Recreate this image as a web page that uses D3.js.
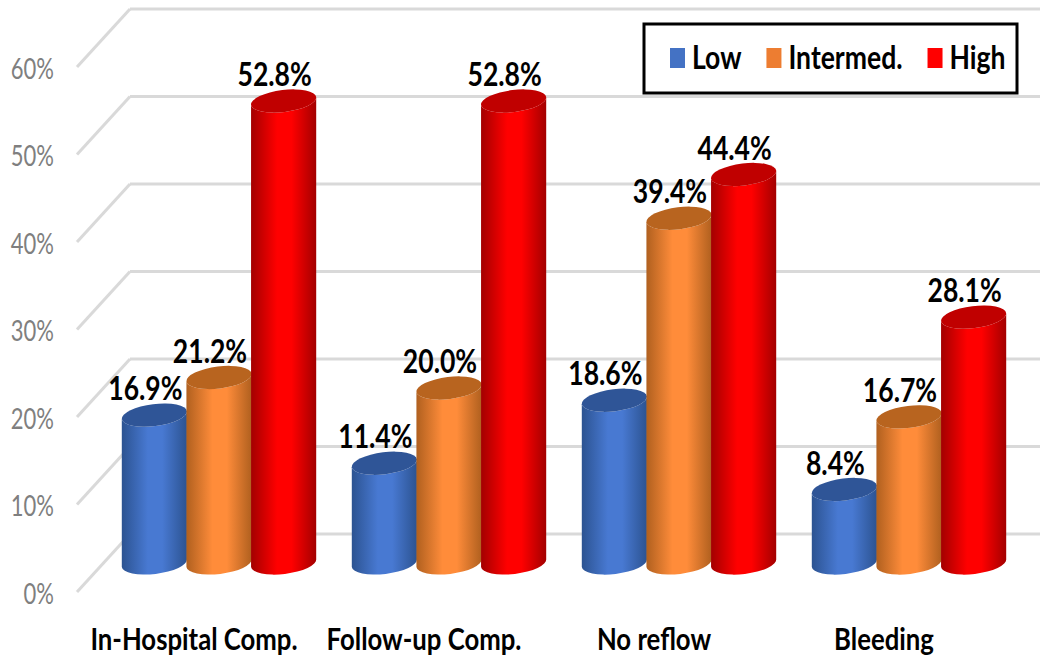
<!DOCTYPE html>
<html>
<head>
<meta charset="utf-8">
<script src="https://cdn.jsdelivr.net/npm/d3@7"></script>
<style>
  html, body { margin: 0; padding: 0; background: #fff; }
  svg { display: block; }
  text { font-family: Lato, "Open Sans", sans-serif; }
</style>
</head>
<body>
<div id="chart"></div>
<script>
// chart values
var categories = ["In-Hospital Comp.", "Follow-up Comp.", "No reflow", "Bleeding"];
var seriesNames = ["Low", "Intermed.", "High"];
var lowValues = [16.9, 11.4, 18.6, 8.4];
var intermedValues = [21.2, 20.0, 39.4, 16.7];
var highValues = [52.8, 52.8, 44.4, 28.1];
var yTicks = [0, 10, 20, 30, 40, 50, 60];

var seriesValues = [lowValues, intermedValues, highValues];
var swatchColors = ["#4472c4", "#ed7d31", "#ff0000"];
var edgeColors = ["#2c5391", "#b0601f", "#a30000"];
var midColors = ["#4879d2", "#ff8c3a", "#ff0000"];
var capColors = ["#2f5597", "#b8641f", "#c00000"];

var width = 1040;
var height = 661;
var squeeze = 0.83; // the bold labels use a narrowed face
var squeezeTicks = 0.76;

var svg = d3
  .select("#chart")
  .append("svg")
  .attr("width", width)
  .attr("height", height);

// scales: y runs through the plane the cylinders stand in
var y = d3.scaleLinear().domain([0, 60]).range([563, 38]);
var x = d3
  .scaleBand()
  .domain(categories)
  .range([104, 1024])
  .paddingInner(0.157)
  .paddingOuter(0.0785);
var xSeries = d3.scaleBand().domain(seriesNames).range([0, x.bandwidth()]);

// floor depth, measured from that plane
var frontOffset = 29;
var backOffset = -29;
var floorLeft = 77;
var floorBack = 130;

// horizontal shading for each cylinder
var defs = svg.append("defs");
seriesNames.forEach(function (name, i) {
  var grad = defs
    .append("linearGradient")
    .attr("id", "shade" + i)
    .attr("x1", "0%")
    .attr("x2", "100%");
  grad.append("stop").attr("offset", "0%").attr("stop-color", edgeColors[i]);
  grad.append("stop").attr("offset", "40%").attr("stop-color", midColors[i]);
  grad.append("stop").attr("offset", "62%").attr("stop-color", midColors[i]);
  grad.append("stop").attr("offset", "100%").attr("stop-color", edgeColors[i]);
});

// grid: wall lines plus the slanted side wall
var grid = svg.append("g").attr("stroke", "#d9d9d9").attr("stroke-width", 3);
grid
  .selectAll(".wall")
  .data(yTicks)
  .enter()
  .append("line")
  .attr("x1", floorBack)
  .attr("x2", width)
  .attr("y1", function (d) {
    return y(d) + backOffset;
  })
  .attr("y2", function (d) {
    return y(d) + backOffset;
  });
grid
  .selectAll(".side")
  .data(yTicks)
  .enter()
  .append("line")
  .attr("x1", floorLeft)
  .attr("x2", floorBack)
  .attr("y1", function (d) {
    return y(d) + frontOffset;
  })
  .attr("y2", function (d) {
    return y(d) + backOffset;
  });

// y axis labels
var yAxis = svg
  .append("g")
  .attr("transform", "translate(63," + (frontOffset + 2) + ")")
  .call(
    d3
      .axisLeft(y)
      .tickValues(yTicks)
      .tickSize(0)
      .tickFormat(function (d) {
        return d + "%";
      })
  );
yAxis.select(".domain").remove();
yAxis
  .selectAll("text")
  .attr("x", -9 / squeezeTicks)
  .attr("transform", "scale(" + squeezeTicks + ",1)")
  .style("font-family", "Lato, sans-serif")
  .style("font-size", "29px")
  .attr("fill", "#7f7f7f");

// x axis labels sit on the front of the floor, left of the groups
var xAxis = svg
  .append("g")
  .attr("transform", "translate(-25,650)")
  .call(d3.axisBottom(x).tickSize(0));
xAxis.select(".domain").remove();
xAxis
  .selectAll("text")
  .attr("y", 0)
  .attr("dy", 0)
  .attr("transform", "scale(" + squeeze + ",1)")
  .style("font-family", "Lato, sans-serif")
  .style("font-size", "31px")
  .style("font-weight", "700")
  .attr("fill", "#000");

// cylinders, each tilted slightly to fake the 3D view
var tilt = -7;
var ry = 11;

function cylinderBody(cx, top, base, rx) {
  var a = (tilt * Math.PI) / 180;
  var dx = rx * Math.cos(a);
  var dy = rx * Math.sin(a);
  return (
    "M" + (cx - dx) + "," + (top - dy) +
    "L" + (cx - dx) + "," + (base - dy) +
    "A" + rx + "," + ry + " " + tilt + " 0 0 " + (cx + dx) + "," + (base + dy) +
    "L" + (cx + dx) + "," + (top + dy) +
    "A" + rx + "," + ry + " " + tilt + " 0 1 " + (cx - dx) + "," + (top - dy) +
    "Z"
  );
}

categories.forEach(function (category, c) {
  seriesNames.forEach(function (name, s) {
    var value = seriesValues[s][c];
    var rx = xSeries.bandwidth() / 2 + 0.5;
    var cx = x(category) + xSeries(name) + xSeries.bandwidth() / 2;
    var g = svg.append("g");

    g.append("path")
      .attr("d", cylinderBody(cx, y(value), y(0), rx))
      .attr("fill", "url(#shade" + s + ")");

    g.append("ellipse")
      .attr("rx", rx)
      .attr("ry", ry)
      .attr("transform", "translate(" + cx + "," + y(value) + ") rotate(" + tilt + ")")
      .attr("fill", capColors[s]);
  });
});

// value labels go on last so no cylinder covers them
categories.forEach(function (category, c) {
  seriesNames.forEach(function (name, s) {
    var value = seriesValues[s][c];
    var cx = x(category) + xSeries(name) + xSeries.bandwidth() / 2;
    svg
      .append("text")
      .attr("transform", "translate(" + (cx - 9) + "," + (y(value) - 15) + ") scale(" + squeeze + ",1)")
      .attr("text-anchor", "middle")
      .style("font-size", "32px")
      .style("font-weight", "700")
      .attr("fill", "#000")
      .text(value.toFixed(1) + "%");
  });
});

// legend
var legend = svg.append("g").attr("transform", "translate(644,24)");
legend
  .append("rect")
  .attr("width", 373)
  .attr("height", 69)
  .attr("fill", "#fff")
  .attr("stroke", "#000")
  .attr("stroke-width", 3);

var cursor = 26;
seriesNames.forEach(function (name, i) {
  legend
    .append("rect")
    .attr("x", cursor)
    .attr("y", 24)
    .attr("width", 15)
    .attr("height", 20)
    .attr("fill", swatchColors[i]);
  var label = legend
    .append("text")
    .attr("transform", "translate(" + (cursor + 22) + ",45) scale(" + squeeze + ",1)")
    .style("font-size", "32px")
    .style("font-weight", "700")
    .attr("fill", "#000")
    .text(name);
  cursor += 22 + label.node().getComputedTextLength() * squeeze + 25;
});
</script>
</body>
</html>
